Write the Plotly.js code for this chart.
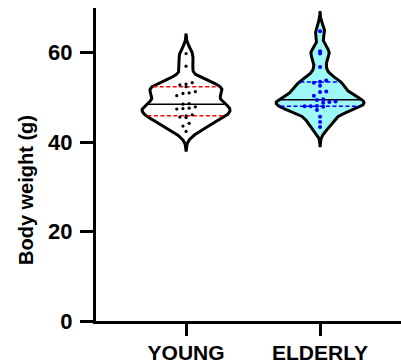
<!DOCTYPE html>
<html><head><meta charset="utf-8">
<script src="https://cdn.plot.ly/plotly-3.0.1.min.js"></script>
<style>html,body{margin:0;padding:0;background:#fff}#chart{width:401px;height:363px}</style>
</head><body><div id="chart"></div>
<script>
// ---- data ----
const categories = ['YOUNG', 'ELDERLY'];
const youngValues = [59.8, 57.0, 53.3, 53.0, 52.8, 52.4, 51.3, 51.0, 50.9, 50.4, 48.6, 48.5,
                     47.9, 47.6, 47.5, 47.4, 46.1, 45.9, 45.6, 45.5, 44.2, 43.6, 42.4];
const elderlyValues = [64.8, 60.3, 59.8, 56.8, 53.8, 53.5, 53.3, 52.6, 51.3, 51.2, 50.4, 49.6,
                       49.4, 49.1, 49.0, 48.8, 48.1, 48.0, 48.0, 47.9, 47.2, 45.7, 44.5, 43.4];
const yTickValues = [0, 20, 40, 60];
const yTickLabels = ['0', '20', '40', '60'];
const yAxisTitle = 'Body weight (g)';

// ---- styling / layout constants ----
const W = 401, H = 363;
const M = {l: 96, r: 0, t: 8, b: 42};
const xRange = [-0.672, 1.604];
const yRange = [0, 70];
const plotW = W - M.l - M.r, plotH = H - M.t - M.b;
const pxPerX = plotW / (xRange[1] - xRange[0]);
const pxPerY = plotH / (yRange[1] - yRange[0]);
const halfWidthPx = 44;
const bw = 1.45;
const spanPad = 4.5;
const FONT = 'Liberation Sans, Arial, sans-serif';

const groups = [
  {name: categories[0], vals: youngValues, fill: 'rgba(255,255,255,0)', qColor: '#ff0000', dot: '#000000', dotSize: 3.2},
  {name: categories[1], vals: elderlyValues, fill: '#9ef7f7', qColor: '#0000ff', dot: '#0000ff', dotSize: 4}
];

function kde(vals, h) {
  return function (x) {
    let s = 0;
    for (const v of vals) { const u = (x - v) / h; s += Math.exp(-0.5 * u * u); }
    return s / (vals.length * h * Math.sqrt(2 * Math.PI));
  };
}
function quantile(asc, p) {
  const pos = (asc.length + 1) * p;
  const lo = Math.floor(pos), f = pos - lo;
  if (lo < 1) return asc[0];
  if (lo >= asc.length) return asc[asc.length - 1];
  return asc[lo - 1] + f * (asc[lo] - asc[lo - 1]);
}

const traces = [];
groups.forEach((g, gi) => {
  const c = gi;
  const asc = g.vals.slice().sort((a, b) => a - b);
  const dens = kde(asc, bw);
  const lo = asc[0] - spanPad, hi = asc[asc.length - 1] + spanPad;
  const ys = [];
  for (let y = lo; y <= hi + 1e-9; y += 0.05) ys.push(y);
  const ds = ys.map(dens);
  const maxD = Math.max(...ds);
  const hwUnits = halfWidthPx / pxPerX;
  const half = y => dens(y) / maxD * hwUnits;
  const px = [], py = [];
  ys.forEach((y, i) => { px.push(c + ds[i] / maxD * hwUnits); py.push(y); });
  for (let i = ys.length - 1; i >= 0; i--) { px.push(c - ds[i] / maxD * hwUnits); py.push(ys[i]); }
  px.push(px[0]); py.push(py[0]);
  traces.push({type: 'scatter', mode: 'lines', x: px, y: py, fill: 'toself', fillcolor: g.fill,
    line: {color: '#000', width: 3, shape: 'linear'}, hoverinfo: 'skip', showlegend: false});

  // median & quartiles
  const med = quantile(asc, 0.5), q1 = quantile(asc, 0.25), q3 = quantile(asc, 0.75);
  [[q1, g.qColor, 'dash'], [q3, g.qColor, 'dash'], [med, '#000', 'solid']].forEach(([q, col, dash]) => {
    const w = half(q) - 1.2 / pxPerX;
    traces.push({type: 'scatter', mode: 'lines', x: [c - w, c + w], y: [q, q],
      line: {color: col, width: 1.5, dash: dash === 'dash' ? '4px,2.5px' : 'solid'}, hoverinfo: 'skip', showlegend: false});
  });

  // dots arranged in rows (binned), centred on the category
  const binSize = 1.2;
  const bins = {};
  asc.forEach(v => { const k = Math.floor(v / binSize); (bins[k] = bins[k] || []).push(v); });
  const dx = 6.2 / pxPerX;
  const xs = [], yv = [];
  Object.keys(bins).forEach(k => {
    const row = bins[k];
    const n = row.length;
    row.forEach((v, i) => { xs.push(c + (i - (n - 1) / 2) * dx); yv.push(v); });
  });
  traces.push({type: 'scatter', mode: 'markers', x: xs, y: yv,
    marker: {color: g.dot, size: g.dotSize, line: {width: 0}}, hoverinfo: 'skip', showlegend: false});
});

const layout = {
  width: W, height: H, margin: M,
  paper_bgcolor: '#fff', plot_bgcolor: '#fff',
  showlegend: false,
  font: {family: FONT, color: '#000'},
  xaxis: {range: xRange, showgrid: false, zeroline: false, showline: true, linecolor: '#000', linewidth: 3,
    ticks: 'outside', ticklen: 12, tickwidth: 3, tickcolor: '#000',
    tickvals: [0, 1], ticktext: categories, ticklabelstandoff: -1,
    tickfont: {family: FONT, size: 21, weight: 'bold', color: '#000'}},
  yaxis: {range: yRange, showgrid: false, zeroline: false, showline: true, linecolor: '#000', linewidth: 3,
    ticks: 'outside', ticklen: 13, tickwidth: 3, tickcolor: '#000',
    tickvals: yTickValues, ticktext: yTickLabels, ticklabelstandoff: 3,
    tickfont: {family: FONT, size: 22, weight: 'bold', color: '#000'}},
  annotations: [{text: yAxisTitle, xref: 'paper', yref: 'paper', x: (26 - M.l) / plotW, y: (H - M.b - 190) / plotH,
    xanchor: 'center', yanchor: 'middle', textangle: -90, showarrow: false,
    font: {family: FONT, size: 20, weight: 'bold', color: '#000'}}]
};

Plotly.newPlot('chart', traces, layout, {staticPlot: true, displayModeBar: false});
</script></body></html>
